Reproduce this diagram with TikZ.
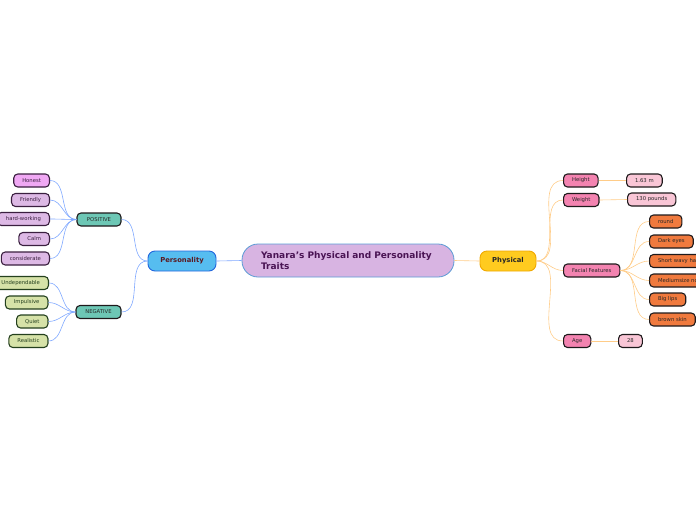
\documentclass[tikz,border=0pt]{standalone}
\usepackage{fontspec}
\setmainfont{DejaVu Sans}
\usepackage{tikz}
\usetikzlibrary{positioning}
\definecolor{rootfill}{HTML}{D8B4E2}
\definecolor{rootdraw}{HTML}{5B9BD5}
\definecolor{rootink}{HTML}{4A1454}
\definecolor{persfill}{HTML}{56BDF0}
\definecolor{persdraw}{HTML}{2266DD}
\definecolor{persink}{HTML}{5A1A22}
\definecolor{physfill}{HTML}{FFCB1F}
\definecolor{physdraw}{HTML}{F0A800}
\definecolor{groupfill}{HTML}{6DC7B5}
\definecolor{posfill}{HTML}{DDB9E5}
\definecolor{honestfill}{HTML}{F0A8F4}
\definecolor{posdraw}{HTML}{3A1F3F}
\definecolor{negfill}{HTML}{D6E2A8}
\definecolor{negdraw}{HTML}{24401E}
\definecolor{bodyfill}{HTML}{F383B0}
\definecolor{valfill}{HTML}{F9C6D6}
\definecolor{facefill}{HTML}{F07A3E}
\definecolor{darkline}{HTML}{1E1A1C}
\definecolor{blueline}{HTML}{7FA8FF}
\definecolor{orangeline}{HTML}{FFCC88}

\begin{document}
\begin{tikzpicture}[x=1pt,y=-1pt,
root/.style={draw=rootdraw,fill=rootfill,line width=0.8pt,rounded corners=16pt,
text width=174pt,inner xsep=19pt,minimum height=33pt,align=left,
font=\fontsize{9}{10.5}\selectfont\bfseries,text=rootink},
mainbox/.style={line width=0.9pt,rounded corners=7pt,minimum height=20pt,
font=\fontsize{6.8}{8}\selectfont\bfseries,text=persink},
leaf/.style={draw=darkline,line width=1.1pt,rounded corners=4pt,minimum height=13pt,
inner xsep=8.5pt,inner ysep=0pt,font=\fontsize{5.3}{6}\selectfont,text=black!85},
group/.style={leaf,fill=groupfill},
posleaf/.style={leaf,fill=posfill,draw=posdraw,text=posdraw,anchor=east},
negleaf/.style={leaf,fill=negfill,draw=negdraw,text=negdraw,anchor=east},
bodyleaf/.style={leaf,fill=bodyfill,anchor=west},
valleaf/.style={leaf,fill=valfill,anchor=west},
faceleaf/.style={leaf,fill=facefill,anchor=west},
bluelink/.style={draw=blueline,line width=0.6pt},
orangelink/.style={draw=orangeline,line width=0.6pt}
]
\useasboundingbox (0,0) rectangle (696,520);

% centre
\node[root] (yanara) at (348,260.5) {Yanara's Physical and Personality\\Traits};
\node[mainbox,draw=persdraw,fill=persfill,minimum width=68pt] (pers) at (182,261) {Personality};
\node[mainbox,draw=physdraw,fill=physfill,minimum width=56pt,text=black!85] (phys) at (508,261) {Physical};

% personality side
\node[group,minimum width=44pt] (pos) at (99,219.5) {POSITIVE};
\node[group,minimum width=45pt] (neg) at (98.5,312) {NEGATIVE};

\node[posleaf,fill=honestfill] (honest) at (50,180.5) {Honest};
\node[posleaf] (friendly) at (50,200) {Friendly};
\node[posleaf] (hardwork) at (50,219) {hard-working};
\node[posleaf] (calm) at (50,239) {Calm};
\node[posleaf] (consid) at (50,258.5) {considerate};

\node[negleaf] (undep) at (49,283) {Undependable};
\node[negleaf] (impuls) at (48.5,302.5) {Impulsive};
\node[negleaf] (quiet) at (48.5,321.5) {Quiet};
\node[negleaf] (realist) at (48.5,341) {Realistic};

% physical side
\node[bodyleaf] (height) at (563,180.5) {Height};
\node[bodyleaf] (weight) at (563,200) {Weight};
\node[bodyleaf] (facial) at (563,270.5) {Facial Features};
\node[bodyleaf] (age) at (563,341) {Age};

\node[valleaf] (hval) at (626,180.5) {1.63 m};
\node[valleaf] (wval) at (627,199.5) {130 pounds};
\node[valleaf] (aval) at (618,341) {28};

\node[faceleaf] (round) at (649,221.5) {round};
\node[faceleaf] (eyes) at (649,241.5) {Dark eyes};
\node[faceleaf] (hair) at (649,261) {Short wavy hair};
\node[faceleaf] (nose) at (649,280.5) {Mediumsize nose};
\node[faceleaf] (lips) at (649,299.5) {Big lips};
\node[faceleaf] (skin) at (649,319.5) {brown skin};

% links
\draw[bluelink] (yanara.west) -- (pers.east);
\draw[orangelink] (yanara.east) -- (phys.west);

\foreach \g in {pos,neg}
  \draw[bluelink] (pers.west) to[out=180,in=0] (\g.east);
\foreach \l in {honest,friendly,hardwork,calm,consid}
  \draw[bluelink] (pos.west) to[out=180,in=0] (\l.east);
\foreach \l in {undep,impuls,quiet,realist}
  \draw[bluelink] (neg.west) to[out=180,in=0] (\l.east);

\foreach \c in {height,weight,facial,age}
  \draw[orangelink] (phys.east) to[out=0,in=180] (\c.west);
\draw[orangelink] (height.east) -- (hval.west);
\draw[orangelink] (weight.east) -- (wval.west);
\draw[orangelink] (age.east) -- (aval.west);
\foreach \f in {round,eyes,hair,nose,lips,skin}
  \draw[orangelink] (facial.east) to[out=0,in=180] (\f.west);
\end{tikzpicture}
\end{document}
